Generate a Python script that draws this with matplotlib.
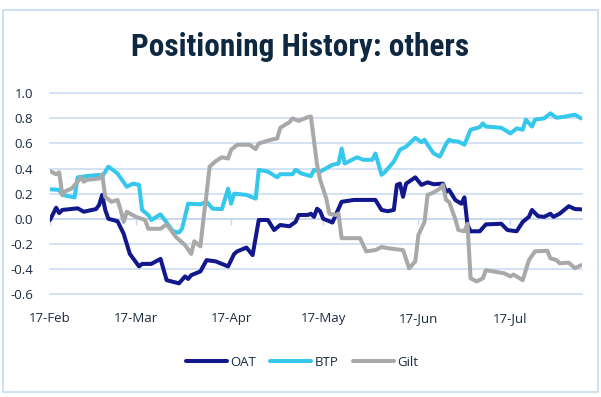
import numpy as np
import pandas as pd
import matplotlib
matplotlib.use("Agg")
import matplotlib.pyplot as plt
import matplotlib.dates as mdates
from matplotlib.patches import Rectangle

W, H = 601, 397
START = pd.Timestamp("2025-02-17")

# values, x = days after 17-Feb
oat_days = [0, 2, 3, 4, 9, 11, 15, 16, 17, 18, 19, 22, 24, 26, 29, 30, 33, 36, 38, 42,
            44, 45, 46, 49, 51, 54, 58, 60, 61, 64, 66, 68, 71, 73, 75, 78, 80, 81, 84, 85,
            86, 87, 88, 89, 92, 93, 95, 99, 106, 108, 110, 112, 113, 114, 115, 116, 119, 121,
            123, 125, 128, 129, 130, 131, 132, 134, 135, 136, 137, 140, 142, 147, 149, 152,
            154, 156, 157, 159, 161, 163, 164, 166, 169, 171, 173]
oat_vals = [-0.01, 0.088, 0.045, 0.07, 0.083, 0.056, 0.077, 0.11, 0.19, 0.07, 0.0, -0.02,
            -0.12, -0.28, -0.38, -0.36, -0.36, -0.32, -0.49, -0.515,
            -0.46, -0.48, -0.45, -0.42, -0.33, -0.34, -0.38, -0.28, -0.26, -0.23, -0.29, -0.01,
            -0.01, -0.09, -0.05, -0.06, -0.025, 0.03, 0.03, 0.04,
            0.015, 0.08, 0.06, 0.0, -0.03, 0.025, 0.135, 0.15, 0.15, 0.07, 0.06, 0.07, 0.27,
            0.28, 0.175, 0.28, 0.33, 0.27,
            0.29, 0.275, 0.28, 0.215, 0.23, 0.19, 0.15, 0.12, 0.17, -0.05, -0.10, -0.10,
            -0.045, -0.04, -0.09, -0.10,
            -0.025, 0.015, 0.07, 0.02, 0.015, 0.04, 0.015, 0.04, 0.10, 0.077, 0.075]

btp_days = [0, 3, 4, 8, 9, 12, 16, 17, 19, 21, 22, 25, 27, 29, 30, 32, 33, 36, 38, 40,
            42, 43, 45, 49, 51, 53, 56, 58, 59, 60, 64, 67, 68, 71, 74, 75, 79, 80, 82, 85,
            86, 88, 92, 94, 95, 96, 100, 102, 105, 106, 108, 109, 112, 114, 116, 119, 121,
            122, 123, 125, 127, 129, 130, 131, 133, 135, 137, 140, 141, 142, 147, 150, 152,
            154, 155, 157, 158, 161, 163, 165, 168, 171, 173]
btp_vals = [0.235, 0.23, 0.19, 0.17, 0.33, 0.34, 0.35, 0.335, 0.415, 0.38, 0.36, 0.255,
            0.28, 0.27, 0.07, 0.03, -0.01, 0.035, -0.03, -0.10,
            -0.11, -0.08, 0.12, 0.115, 0.135, 0.08, 0.077, 0.24, 0.12, 0.20, 0.19, 0.16, 0.39,
            0.375, 0.33, 0.355, 0.355, 0.39, 0.36, 0.34,
            0.39, 0.375, 0.43, 0.44, 0.56, 0.44, 0.49, 0.47, 0.47, 0.52, 0.35, 0.37, 0.455,
            0.55, 0.575, 0.645, 0.61,
            0.63, 0.59, 0.52, 0.495, 0.595, 0.63, 0.62, 0.615, 0.59, 0.71, 0.73, 0.76, 0.735,
            0.725, 0.68, 0.72,
            0.71, 0.79, 0.735, 0.79, 0.80, 0.84, 0.805, 0.815, 0.83, 0.80]

gilt_days = [0, 2, 3, 4, 5, 7, 9, 10, 11, 12, 16, 17, 18, 20, 22, 23, 24, 25, 28, 31,
             32, 36, 38, 41, 44, 46, 47, 49, 50, 51, 52, 54, 56, 58, 59, 61, 65, 67, 68, 72,
             74, 75, 78, 79, 81, 84, 85, 86, 87, 88, 90, 91, 93, 94, 95, 101, 103, 106, 108,
             110, 115, 117, 119, 120, 122, 123, 125, 127, 128, 129, 130, 132, 133, 135, 136,
             137, 139, 141, 142, 148, 150, 151, 154, 156, 158, 162, 163, 165, 166, 169, 171, 173]
gilt_vals = [0.38, 0.355, 0.37, 0.19, 0.22, 0.24, 0.295, 0.33, 0.295, 0.31, 0.32, 0.355,
             0.175, 0.135, 0.15, 0.07, -0.025, 0.055, 0.015, -0.01,
             -0.08, -0.08, -0.045, -0.145, -0.21, -0.28, -0.18, -0.22, 0.0, 0.2, 0.415, 0.46,
             0.49, 0.48, 0.55, 0.59, 0.59, 0.555, 0.60, 0.63,
             0.64, 0.725, 0.77, 0.80, 0.78, 0.81, 0.815, 0.62, 0.43, 0.31, 0.16, 0.04, 0.03,
             0.04, -0.155, -0.155, -0.26, -0.25, -0.225,
             -0.235, -0.25, -0.395, -0.34, -0.13, -0.025, 0.19, 0.21, 0.24, 0.27, 0.15, 0.135,
             0.0, -0.09, -0.10, -0.04,
             -0.475, -0.50, -0.475, -0.41, -0.435, -0.46, -0.445, -0.49, -0.33, -0.26, -0.255,
             -0.315, -0.33, -0.355, -0.35, -0.395, -0.37]

series = [("OAT", oat_days, oat_vals, "#12188c"),
          ("BTP", btp_days, btp_vals, "#35c8ec"),
          ("Gilt", gilt_days, gilt_vals, "#a9a9a9")]

y_ticks = [-0.6, -0.4, -0.2, 0.0, 0.2, 0.4, 0.6, 0.8, 1.0]
x_ticks = pd.date_range(START, periods=6, freq=pd.DateOffset(months=1))

GRID = "#c7daf1"
TEXT = "#1b2a41"
plt.rcParams["font.family"] = ["Open Sans", "DejaVu Sans"]

fig = plt.figure(figsize=(W / 100, H / 100), dpi=100)
fig.patches.append(Rectangle((3 / W, 1 - 392 / H), 594.5 / W, 382.5 / H,
                             transform=fig.transFigure, fill=False,
                             edgecolor="#c5daf2", lw=1.2))

ax = fig.add_axes([50 / W, 1 - 294 / H, 532 / W, (294 - 93.3) / H])
for s in ax.spines.values():
    s.set_visible(False)
for yv in y_ticks:
    ax.axhline(yv, color=GRID, lw=1.1, zorder=0, clip_on=False)

for name, d, v, c in series:
    dates = START + pd.to_timedelta(d, unit="D")
    ax.plot(dates, v, color=c, lw=2.9, label=name, solid_joinstyle="round",
            solid_capstyle="round", zorder=3)

ax.set_ylim(-0.6, 1.0)
ax.set_xlim(START, START + pd.Timedelta(days=173.3))
ax.set_yticks(y_ticks)
ax.set_yticklabels([f"{t:.1f}" for t in y_ticks])
ax.set_xticks(x_ticks)
ax.xaxis.set_major_formatter(mdates.DateFormatter("%d-%b"))
ax.tick_params(axis="y", length=0, pad=12, labelsize=9.5, labelcolor=TEXT)
ax.tick_params(axis="x", length=0, pad=13, labelsize=9.5, labelcolor=TEXT)

# horizontal axis crosses at zero, tick marks only
zax = ax.secondary_xaxis(0.375)
zax.set_xticks(x_ticks)
zax.tick_params(length=4, width=1, color=GRID, labelbottom=False)
zax.set_xticklabels([])
zax.spines["bottom"].set_color(GRID)
zax.spines["bottom"].set_linewidth(1.1)

title_fonts = ["Liberation Sans Narrow", "DejaVu Sans Condensed", "Roboto Condensed",
               "Open Sans Condensed", "Roboto", "DejaVu Sans"]
fig.text(0.5, 1 - 56 / H, "Positioning History: others", ha="center", va="baseline",
         fontsize=22.5, fontweight="bold", color="#0e2841", family=title_fonts)

fig.legend(loc="center", bbox_to_anchor=(302 / W, 1 - 362 / H), ncol=3, frameon=False,
           fontsize=9.5, labelcolor=TEXT, handlelength=3.1, handletextpad=0.25,
           columnspacing=1.1)

fig.savefig("out.png", dpi=100)
